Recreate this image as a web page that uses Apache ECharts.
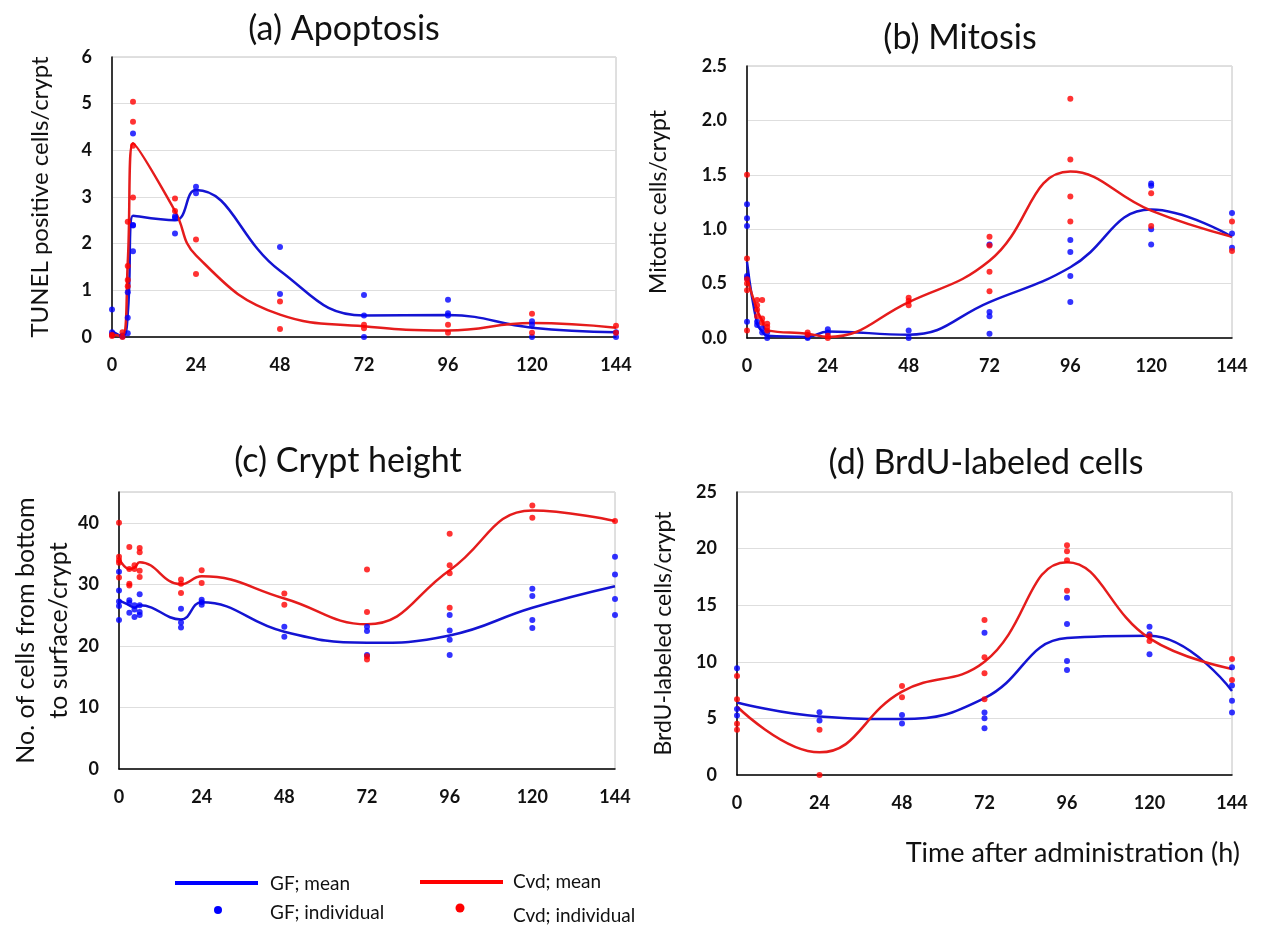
<!DOCTYPE html>
<html>
<head>
<meta charset="utf-8">
<script src="https://cdn.jsdelivr.net/npm/echarts@6/dist/echarts.min.js"></script>
<style>html,body{margin:0;padding:0;background:#fff}#c{width:1264px;height:929px}</style>
</head>
<body>
<div id="c"></div>
<script>
// ---- data ----
const hours = [0, 3, 4.5, 6, 18, 24, 48, 72, 96, 120, 144];
const brduHours = [0, 24, 48, 72, 96, 120, 144];
const xTicks = [0, 24, 48, 72, 96, 120, 144];

const apopMeanGF  = [0.13, 0.02, 0.5, 2.6, 2.5, 3.15, 1.42, 0.46, 0.47, 0.2, 0.1];
const apopMeanCvd = [0.05, 0.02, 1.6, 4.15, 2.7, 1.75, 0.48, 0.23, 0.14, 0.3, 0.2];
const apopGF = [[0,0.59],[0,0.1],[0,0.05],[3,0.03],[3,0.01],[4.5,0.08],[4.5,0.41],[4.5,0.96],[6,4.36],[6,2.4],[6,2.39],[6,1.84],[18,2.59],[18,2.55],[18,2.22],[24,3.22],[24,3.08],[48,1.93],[48,0.92],[72,0.9],[72,0.46],[72,0],[96,0.8],[96,0.51],[96,0.46],[120,0.34],[120,0.26],[120,0],[144,0.1],[144,0]];
const apopCvd = [[0,0.05],[0,0.02],[3,0.1],[3,0],[4.5,2.47],[4.5,1.52],[4.5,1.22],[4.5,1.09],[6,5.04],[6,4.61],[6,4.1],[6,2.99],[18,2.97],[18,2.7],[24,2.09],[24,1.35],[48,0.76],[48,0.17],[72,0.26],[72,0.19],[96,0.26],[96,0.09],[120,0.5],[120,0.09],[144,0.24],[144,0.09]];

const mitoMeanGF  = [0.7, 0.13, 0.06, 0.02, 0.01, 0.06, 0.03, 0.33, 0.65, 1.18, 0.93];
const mitoMeanCvd = [0.55, 0.26, 0.16, 0.07, 0.04, 0.01, 0.33, 0.71, 1.53, 1.17, 0.93];
const mitoGF = [[0,1.23],[0,1.10],[0,1.03],[0,0.57],[0,0.55],[0,0.15],[3,0.15],[3,0.12],[4.5,0.09],[4.5,0.05],[6,0.05],[6,0],[18,0],[18,0.01],[24,0.08],[24,0.05],[48,0.07],[48,0],[72,0.86],[72,0.24],[72,0.2],[72,0.04],[96,0.9],[96,0.79],[96,0.57],[96,0.33],[120,1.42],[120,1.4],[120,1.0],[120,0.86],[144,1.15],[144,0.96],[144,0.83]];
const mitoCvd = [[0,1.5],[0,0.73],[0,0.54],[0,0.5],[0,0.44],[0,0.07],[3,0.35],[3,0.3],[3,0.26],[3,0.2],[4.5,0.35],[4.5,0.18],[4.5,0.14],[6,0.13],[6,0.1],[6,0.07],[18,0.05],[18,0.03],[24,0.02],[24,0],[48,0.37],[48,0.34],[48,0.3],[72,0.93],[72,0.85],[72,0.61],[72,0.43],[96,2.2],[96,1.64],[96,1.3],[96,1.07],[120,1.33],[120,1.03],[144,1.07],[144,0.8]];

const cryptMeanGF  = [27.4, 26.6, 26.2, 26.6, 24.3, 27.1, 22.3, 20.5, 21.7, 26.2, 29.7];
const cryptMeanCvd = [34.2, 32.5, 32.7, 33.6, 30.0, 31.3, 27.7, 23.5, 32.3, 42.0, 40.3];
const cryptGF = [[0,32.05],[0,29.0],[0,27.2],[0,26.5],[0,24.2],[3,27.4],[3,27.0],[3,25.4],[4.5,26.6],[4.5,25.9],[4.5,24.7],[6,28.4],[6,26.6],[6,25.5],[6,25.0],[18,26.05],[18,23.8],[18,23.0],[24,27.5],[24,27.1],[24,26.7],[48,23.1],[48,21.5],[72,23.1],[72,22.4],[72,18.5],[96,25.0],[96,22.5],[96,21.0],[96,18.5],[120,29.3],[120,28.1],[120,24.2],[120,22.9],[144,34.5],[144,31.6],[144,27.6],[144,25.0]];
const cryptCvd = [[0,40],[0,34.5],[0,33.9],[0,33.5],[0,31.1],[3,36.05],[3,32.5],[3,30.1],[3,29.8],[4.5,33.1],[4.5,32.5],[6,35.9],[6,35.2],[6,32.2],[6,31.2],[18,30.8],[18,30.1],[18,28.6],[24,32.3],[24,30.2],[48,28.5],[48,26.7],[72,32.4],[72,25.5],[72,18.3],[72,17.8],[96,38.2],[96,33.1],[96,31.8],[96,26.2],[120,42.8],[120,40.8],[144,40.3]];

const brduMeanGF  = [6.4, 5.17, 4.94, 6.79, 12.1, 12.3, 7.43];
const brduMeanCvd = [6.05, 2.0, 7.37, 10.0, 18.8, 12.07, 9.37];
const brduGF = [[0,9.43],[0,5.82],[0,5.26],[24,5.55],[24,4.82],[48,5.29],[48,4.55],[72,12.57],[72,5.52],[72,5.02],[72,4.14],[96,15.66],[96,13.34],[96,10.08],[96,9.28],[120,13.1],[120,12.43],[120,10.66],[144,9.52],[144,7.9],[144,6.55],[144,5.52]];
const brduCvd = [[0,8.75],[0,6.7],[0,4.52],[0,4.0],[24,4.0],[24,0],[48,7.87],[48,6.87],[72,13.69],[72,10.4],[72,8.99],[72,6.7],[96,20.3],[96,19.77],[96,18.98],[96,16.27],[120,12.28],[120,11.84],[144,10.25],[144,8.4]];

const titles = ['(a) Apoptosis', '(b) Mitosis', '(c) Crypt height', '(d) BrdU-labeled cells'];
const yNames = ['TUNEL positive cells/crypt', 'Mitotic cells/crypt', 'No. of cells from bottom\nto surface/crypt', 'BrdU-labeled cells/crypt'];
const xName = 'Time after administration (h)';
const legendNames = ['GF; mean', 'GF; individual', 'Cvd; mean', 'Cvd; individual'];

// ---- styling ----
const BLUE = '#0000ff', RED = '#ff0000';
const LBLUE = '#1414d2', LRED = '#e51c1c';
const FONT = 'Lato, "Open Sans", sans-serif';

const grids = [
  {left: 112, top: 57, width: 504, height: 280},
  {left: 747, top: 66, width: 485, height: 272},
  {left: 119, top: 492, width: 496, height: 277},
  {left: 737, top: 492, width: 495, height: 283}
].map(g => Object.assign(g, {show: true, borderColor: '#c0c0c0', borderWidth: 1, backgroundColor: 'transparent', outerBoundsMode: 'none', containLabel: false}));

const yCfg = [
  {min: 0, max: 6, interval: 1, gap: 56, size: 24, dec: 0},
  {min: 0, max: 2.5, interval: 0.5, gap: 73, size: 23, dec: 1},
  {min: 0, max: 45, interval: 10, gap: 44, size: 25, dec: 0, hideMax: true},
  {min: 0, max: 25, interval: 5, gap: 58, size: 23, dec: 0}
];

const xAxes = grids.map((g, i) => ({
  type: 'value', gridIndex: i, min: 0, max: 144, interval: 24,
  axisLine: {show: true, onZero: false, lineStyle: {color: '#000', width: 1.5}},
  axisTick: {show: false}, splitLine: {show: false},
  axisLabel: {margin: 19, fontSize: 18, fontWeight: 'bold', color: '#111', fontFamily: FONT,
    formatter: v => xTicks.includes(v) ? String(v) : ''}
}));

const yAxes = yCfg.map((c, i) => ({
  type: 'value', gridIndex: i, min: c.min, max: c.max, interval: c.interval,
  name: yNames[i], nameLocation: 'middle', nameGap: c.gap, nameMoveOverlap: false,
  nameTextStyle: {fontSize: c.size, fontFamily: FONT, color: '#111', lineHeight: c.size * 1.3},
  axisLine: {show: true, lineStyle: {color: '#000', width: 1.5}},
  axisTick: {show: false},
  splitLine: {show: true, lineStyle: {color: '#dedede', width: 1}},
  axisLabel: {margin: 20, fontSize: 18, fontWeight: 'bold', color: '#111', fontFamily: FONT,
    formatter: v => (c.hideMax && v === c.max) ? '' : v.toFixed(c.dec)}
}));

function lineSeries(i, xs, ys, color) {
  return {type: 'line', xAxisIndex: i, yAxisIndex: i, smooth: 0.45, showSymbol: false,
    data: xs.map((h, k) => [h, ys[k]]), lineStyle: {color: color, width: 2.5}, z: 2, clip: false, silent: true};
}
function dotSeries(i, pts, color) {
  return {type: 'scatter', xAxisIndex: i, yAxisIndex: i, data: pts, symbolSize: 6,
    itemStyle: {color: color}, z: 3, clip: false, silent: true};
}

const series = [
  lineSeries(0, hours, apopMeanGF, LBLUE), lineSeries(0, hours, apopMeanCvd, LRED),
  dotSeries(0, apopGF, BLUE), dotSeries(0, apopCvd, RED),
  lineSeries(1, hours, mitoMeanGF, LBLUE), lineSeries(1, hours, mitoMeanCvd, LRED),
  dotSeries(1, mitoGF, BLUE), dotSeries(1, mitoCvd, RED),
  lineSeries(2, hours, cryptMeanGF, LBLUE), lineSeries(2, hours, cryptMeanCvd, LRED),
  dotSeries(2, cryptGF, BLUE), dotSeries(2, cryptCvd, RED),
  lineSeries(3, brduHours, brduMeanGF, LBLUE), lineSeries(3, brduHours, brduMeanCvd, LRED),
  dotSeries(3, brduGF, BLUE), dotSeries(3, brduCvd, RED)
];

const titlePos = [[344, 29], [960, 38], [348, 461], [986, 463]];
const graphics = titles.map((t, i) => ({
  type: 'text', x: titlePos[i][0], y: titlePos[i][1], z: 10,
  style: {text: t, fontSize: 34, fontFamily: FONT, fill: '#111', textAlign: 'center', textVerticalAlign: 'middle'}
}));
graphics.push({type: 'rect', shape: {x: 860, y: 0, width: 200, height: 20}, style: {fill: '#fff'}, z: 20});
graphics.push({type: 'text', x: 1240, y: 853, z: 10,
  style: {text: xName, fontSize: 27, fontFamily: FONT, fill: '#111', textAlign: 'right', textVerticalAlign: 'middle'}});
// legend
graphics.push({type: 'line', shape: {x1: 175, y1: 883, x2: 258, y2: 883}, style: {stroke: BLUE, lineWidth: 4}});
graphics.push({type: 'circle', shape: {cx: 218, cy: 910, r: 4}, style: {fill: BLUE}});
graphics.push({type: 'line', shape: {x1: 420, y1: 882, x2: 503, y2: 882}, style: {stroke: RED, lineWidth: 4}});
graphics.push({type: 'circle', shape: {cx: 460, cy: 908, r: 4.5}, style: {fill: RED}});
const legPos = [[270, 884], [270, 913], [513, 882], [513, 916]];
legendNames.forEach((t, i) => graphics.push({type: 'text', x: legPos[i][0], y: legPos[i][1],
  style: {text: t, fontSize: 19, fontFamily: FONT, fill: '#111', textAlign: 'left', textVerticalAlign: 'middle'}}));

const chart = echarts.init(document.getElementById('c'), null, {renderer: 'canvas'});
chart.setOption({
  animation: false, backgroundColor: '#fff',
  grid: grids, xAxis: xAxes, yAxis: yAxes, series: series, graphic: graphics
});
</script>
</body>
</html>
